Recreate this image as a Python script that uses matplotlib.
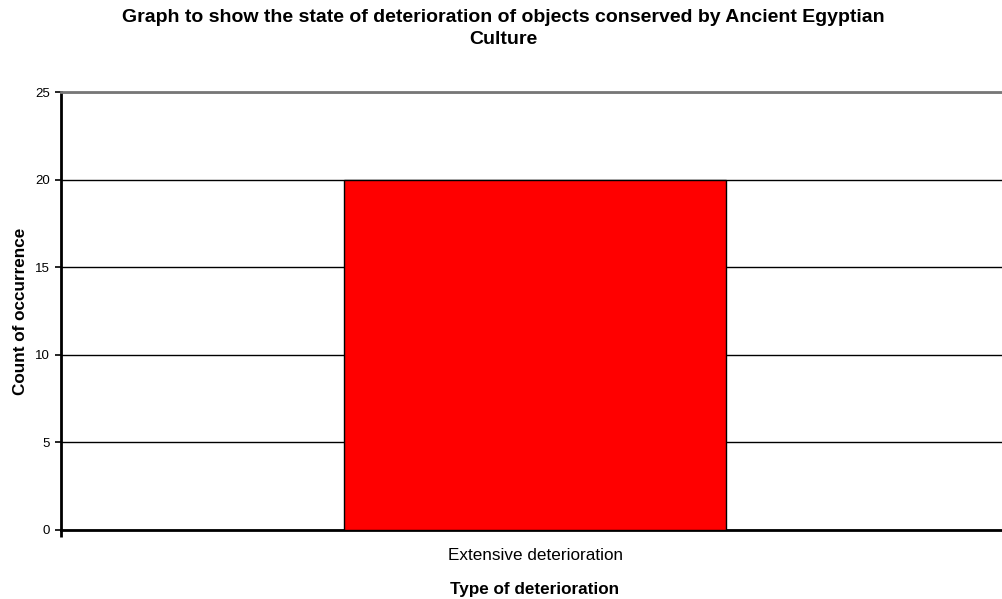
import matplotlib
matplotlib.use("Agg")
import matplotlib.pyplot as plt

categories = ["Extensive deterioration"]
counts = [20]
yticks = [0, 5, 10, 15, 20, 25]

plt.rcParams['font.family'] = ['Liberation Sans', 'DejaVu Sans']

fig = plt.figure(figsize=(10.03, 5.99), dpi=100)
ax = fig.add_axes([0.0608, 0.1152, 0.9452, 0.7312])

ax.bar(range(len(categories)), counts, width=0.403, color='#ff0000', edgecolor='black', linewidth=1, zorder=3)
ax.set_xlim(-0.5, len(categories) - 0.5)
ax.set_ylim(0, 25)
ax.set_yticks(yticks)
ax.set_xticks(range(len(categories)))
ax.set_xticklabels(categories, fontsize=12.3)
ax.set_xticks([-0.5, len(categories) - 0.5], minor=True)
ax.tick_params(axis='y', labelsize=9.5, length=4, width=1.2, direction='out', pad=4)
ax.tick_params(axis='x', which='major', length=0, pad=13)
ax.tick_params(axis='x', which='minor', length=5, width=2, direction='out')
ax.yaxis.grid(True, color='black', linewidth=1, zorder=0)
ax.set_axisbelow(True)

ax.spines['right'].set_visible(False)
ax.spines['top'].set_color('#777777')
ax.spines['top'].set_linewidth(2)
ax.spines['left'].set_linewidth(2)
ax.spines['bottom'].set_linewidth(2)

ax.set_ylabel("Count of occurrence", fontsize=12.3, fontweight='bold')
ax.yaxis.set_label_coords(-0.035, 0.5)
ax.set_xlabel("Type of deterioration", fontsize=12.3, fontweight='bold')
ax.xaxis.set_label_coords(0.5, -0.119)
fig.text(0.502, 0.985, "Graph to show the state of deterioration of objects conserved by Ancient Egyptian\nCulture",
         ha='center', va='top', fontsize=14, fontweight='bold', linespacing=1.4)

fig.savefig("out.png", dpi=100)
